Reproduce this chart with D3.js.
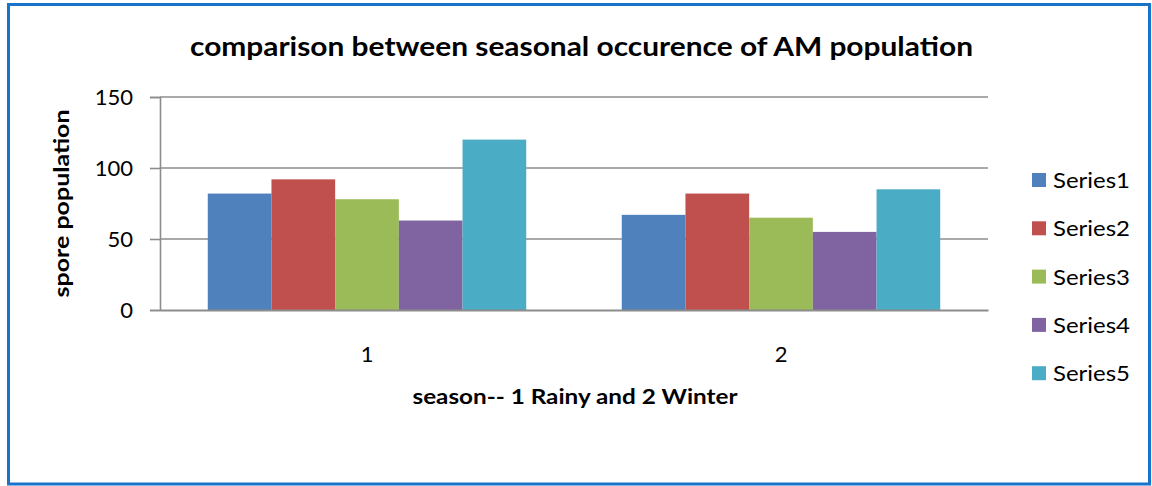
<!DOCTYPE html>
<html>
<head>
<meta charset="utf-8">
<script src="https://cdn.jsdelivr.net/npm/d3@7"></script>
<style>
  html, body { margin: 0; padding: 0; background: #fff; }
  svg { display: block; }
  text { font-family: Lato, "Open Sans", "DejaVu Sans", sans-serif; fill: #000; }
</style>
</head>
<body>
<svg id="chart" width="1152" height="486"></svg>
<script>
// Spore counts per season for five AM series
const categories = ["1", "2"];
const seriesNames = ["Series1", "Series2", "Series3", "Series4", "Series5"];
const series1 = [82, 67];
const series2 = [92, 82];
const series3 = [78, 65];
const series4 = [63, 55];
const series5 = [120, 85];
const yTicks = [0, 50, 100, 150];
const seriesColors = ["#4F81BD", "#C0504D", "#9BBB59", "#8064A2", "#4BACC6"];

const allSeries = [series1, series2, series3, series4, series5];

const svg = d3.select("#chart");

// outer frame
svg.append("rect")
  .attr("x", 8.5).attr("y", 4.5)
  .attr("width", 1141).attr("height", 479.5)
  .attr("fill", "#fff")
  .attr("stroke", "#1874C8")
  .attr("stroke-width", 3);

const plot = { left: 160, right: 988, top: 97, bottom: 310 };

const x0 = d3.scaleBand()
  .domain(categories)
  .range([plot.left, plot.right])
  .paddingInner(0)
  .paddingOuter(0);

// 150% gap width: 5 bars + 1.5 bar widths of gap per category
const bw = x0.bandwidth() / 6.5;
const x1 = d3.scaleBand()
  .domain(seriesNames)
  .range([bw * 0.75, bw * 0.75 + bw * 5]);

const y = d3.scaleLinear()
  .domain([0, 150])
  .range([plot.bottom, plot.top]);

// horizontal gridlines
svg.append("g")
  .selectAll("line")
  .data(yTicks.filter(t => t > 0))
  .join("line")
  .attr("x1", plot.left).attr("x2", plot.right)
  .attr("y1", d => y(d)).attr("y2", d => y(d))
  .attr("stroke", "#8C8C8C")
  .attr("stroke-width", 1.6);

// bars
const groups = svg.append("g")
  .selectAll("g")
  .data(categories)
  .join("g")
  .attr("transform", d => `translate(${x0(d)},0)`);

groups.selectAll("rect")
  .data((c, ci) => seriesNames.map((s, si) => ({ s, si, v: allSeries[si][ci] })))
  .join("rect")
  .attr("x", d => x1(d.s))
  .attr("width", x1.bandwidth())
  .attr("y", d => y(d.v))
  .attr("height", d => y(0) - y(d.v))
  .attr("fill", d => seriesColors[d.si]);

// y axis
const yAxis = d3.axisLeft(y)
  .tickValues(yTicks)
  .tickSize(10)
  .tickPadding(17);
const gy = svg.append("g")
  .attr("transform", `translate(${plot.left},0)`)
  .call(yAxis);
gy.select(".domain").attr("stroke", "#8C8C8C").attr("stroke-width", 1.6);
gy.selectAll(".tick line").attr("stroke", "#8C8C8C").attr("stroke-width", 1.6);
gy.selectAll(".tick text")
  .attr("font-size", 22)
  .attr("font-family", "Lato, 'Open Sans', sans-serif")
  .attr("fill", "#000");

// x axis baseline and category labels
const xAxis = d3.axisBottom(x0).tickSize(0).tickPadding(0);
const gx = svg.append("g")
  .attr("transform", `translate(0,${plot.bottom})`)
  .call(xAxis);
gx.select(".domain").attr("stroke", "#8C8C8C").attr("stroke-width", 2);
gx.selectAll(".tick text")
  .attr("y", 52)
  .attr("dy", 0)
  .attr("font-size", 22)
  .attr("font-family", "Lato, 'Open Sans', sans-serif")
  .attr("fill", "#000");

// title
svg.append("text")
  .attr("x", (190 + 973) / 2)
  .attr("y", 56)
  .attr("text-anchor", "middle")
  .attr("font-size", 27)
  .attr("font-weight", "bold")
  .attr("textLength", 783)
  .attr("lengthAdjust", "spacingAndGlyphs")
  .text("comparison between seasonal occurence of AM population");

// axis titles
svg.append("text")
  .attr("x", 575)
  .attr("y", 404)
  .attr("text-anchor", "middle")
  .attr("font-size", 21)
  .attr("font-weight", "bold")
  .attr("textLength", 325)
  .attr("lengthAdjust", "spacingAndGlyphs")
  .text("season-- 1 Rainy and 2 Winter");

svg.append("text")
  .attr("transform", `translate(69,${(plot.top + plot.bottom) / 2}) rotate(-90)`)
  .attr("text-anchor", "middle")
  .attr("font-size", 21)
  .attr("font-weight", "bold")
  .attr("textLength", 188)
  .attr("lengthAdjust", "spacingAndGlyphs")
  .text("spore population");

// legend
const legend = svg.append("g")
  .selectAll("g")
  .data(seriesNames)
  .join("g")
  .attr("transform", (d, i) => `translate(1032,${180 + i * 48.3})`);

legend.append("rect")
  .attr("x", 0).attr("y", -7)
  .attr("width", 14).attr("height", 14)
  .attr("fill", (d, i) => seriesColors[i]);

legend.append("text")
  .attr("x", 21)
  .attr("y", 8)
  .attr("font-size", 22)
  .attr("textLength", 77)
  .attr("lengthAdjust", "spacingAndGlyphs")
  .text(d => d);
</script>
</body>
</html>
